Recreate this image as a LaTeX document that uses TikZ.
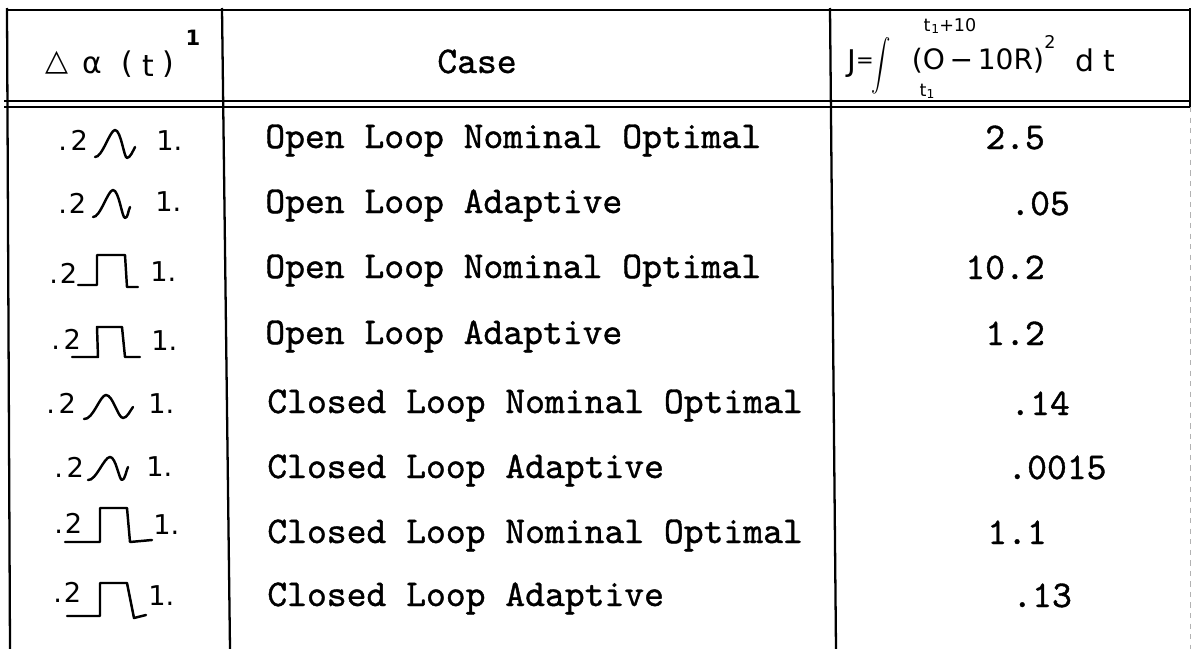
\documentclass[tikz,border=0pt]{standalone}
\usepackage{fontspec}
\newfontfamily\hwfont{DejaVu Sans}
\newfontfamily\lmm{lmmono10-regular.otf}[FakeBold=1]
\begin{document}
\begin{tikzpicture}[x=0.02cm,y=-0.02cm]
\tikzset{
  rule/.style={line width=1.3pt, black},
  thinrule/.style={line width=0.8pt, black},
  tw/.style={font={\lmm\fontsize{21.5}{23}\selectfont}, anchor=base west, inner sep=0pt},
  hw/.style={font={\hwfont\fontsize{15.5}{17}\selectfont}, anchor=base west, inner sep=0pt},
  hwc/.style={font={\hwfont\fontsize{17}{19}\selectfont}, inner sep=0pt},
  hws/.style={font={\hwfont\fontsize{10}{11}\selectfont}, inner sep=0pt},
  pulse/.style={line width=1.4pt, line join=round, line cap=round},
}
\useasboundingbox (0,0) rectangle (1194,649);
\fill[white] (0,0) rectangle (1194,649);
% table rules
\draw[rule] (7,10) -- (1190,10);
\draw[rule] (4,101) -- (1190,101);
\draw[thinrule] (4,107) -- (1190,107);
\draw[rule] (7,8) -- (10,649);
\draw[rule] (222,8) -- (230,649);
\draw[rule] (830,8) -- (836,649);
\draw[rule] (1190,8) -- (1190,107);
\draw[gray!60, line width=0.5pt, dashed] (1190,107) -- (1190,649);
% header
\node[hwc] (hdelta) at (57,63) {△};
\node[hwc] (halpha) at (92,65) {α};
\node[hwc] (hlp) at (127,64) {(};
\node[hwc] (ht) at (148,66) {t};
\node[hwc] (hrp) at (168,64) {)};
\node[font={\hwfont\bfseries\fontsize{12}{13}\selectfont}, inner sep=0pt] (hone) at (193,38) {1};
\node[tw] (hcase) at (437,73) {Case};
\node[hwc] (jJ) at (852,64) {J};
\node[font={\hwfont\fontsize{12}{13}\selectfont}, inner sep=0pt] (jeq) at (865,63) {=};
\node[inner sep=0pt] (jint) at (881,66) {\scalebox{1.1}[1.45]{\fontsize{17}{19}\selectfont$\displaystyle\int$}};
\node[hws] (jup) at (950,26) {t\kern0.5pt\raisebox{-1pt}{\scriptsize1}+10};
\node[hws] (jlo) at (927,91) {t\raisebox{-1pt}{\scriptsize1}};
\node[font={\hwfont\fontsize{16}{18}\selectfont}, inner sep=0pt] (jbody) at (978,61) {(O\,−\,10R)};
\node[hws] (jsq) at (1050,42) {2};
\node[hwc] (jdt) at (1095,60) {d\kern5pt t};
% rows: middle column
\node[tw] (c1) at (265,148) {Open Loop Nominal Optimal};
\node[tw] (c2) at (265,213) {Open Loop Adaptive};
\node[tw] (c3) at (265,278) {Open Loop Nominal Optimal};
\node[tw] (c4) at (265,344) {Open Loop Adaptive};
\node[tw] (c5) at (267,413) {Closed Loop Nominal Optimal};
\node[tw] (c6) at (267,478) {Closed Loop Adaptive};
\node[tw] (c7) at (267,543) {Closed Loop Nominal Optimal};
\node[tw] (c8) at (267,606) {Closed Loop Adaptive};
% rows: values
\node[tw] (v1) at (985,149) {2.5};
\node[tw] (v2) at (1010,215) {.05};
\node[tw] (v3) at (965,279) {10.2};
\node[tw] (v4) at (985,345) {1.2};
\node[tw] (v5) at (1010,415) {.14};
\node[tw] (v6) at (1007,479) {.0015};
\node[tw] (v7) at (987,544) {1.1};
\node[tw] (v8) at (1012,607) {.13};
% rows: left column text
\node[hw] (a1) at (58,150) {.\kern2pt2};
\node[hw] (a2) at (58,213) {.\kern1pt2};
\node[hw] (a3) at (49,283) {.\kern1pt2};
\node[hw] (a4) at (51,349) {.\kern2pt2};
\node[hw] (a5) at (46,413) {.\kern2pt2};
\node[hw] (a6) at (54,477) {.\kern2pt2};
\node[hw] (a7) at (54,533) {.\kern1pt2};
\node[hw] (a8) at (53,602) {.\kern1pt2};
\node[hw] (b1) at (156,150) {1.};
\node[hw] (b2) at (155,211) {1.};
\node[hw] (b3) at (150,281) {1.};
\node[hw] (b4) at (151,350) {1.};
\node[hw] (b5) at (148,413) {1.};
\node[hw] (b6) at (146,476) {1.};
\node[hw] (b7) at (153,534) {1.};
\node[hw] (b8) at (148,605) {1.};
% bump pulses
\draw[pulse] (95,157) .. controls +(7,1) and +(-5,0) .. (115,130) .. controls +(6,0) and +(-3,0) .. (127,158) .. controls +(3,0) and +(-2,4) .. (135,147);
\draw[pulse] (93,217) .. controls +(7,1) and +(-5,0) .. (113,190) .. controls +(6,0) and +(-3,0) .. (125,218) .. controls +(3,0) and +(-2,4) .. (130,207);
\draw[pulse] (84,419) .. controls +(9,1) and +(-6,0) .. (106,395) .. controls +(7,0) and +(-5,0) .. (123,418) .. controls +(4,0) and +(-3,4) .. (133,407);
\draw[pulse] (88,480) .. controls +(8,1) and +(-6,0) .. (110,457) .. controls +(6,0) and +(-3,0) .. (122,480) .. controls +(3,0) and +(-2,4) .. (128,467);
% rectangular pulses
\draw[pulse] (78,285) -- (97,285) -- (97,255) -- (125,255) -- (127,287) -- (138,287);
\draw[pulse] (72,357) -- (98,357) -- (97,327) -- (122,327) -- (125,357) -- (140,357);
\draw[pulse] (65,542) -- (100,542) -- (100,508) -- (127,508) -- (130,542) -- (152,540);
\draw[pulse] (67,616) -- (100,616) -- (100,583) -- (127,583) -- (134,618) -- (146,615);
\end{tikzpicture}
\end{document}
